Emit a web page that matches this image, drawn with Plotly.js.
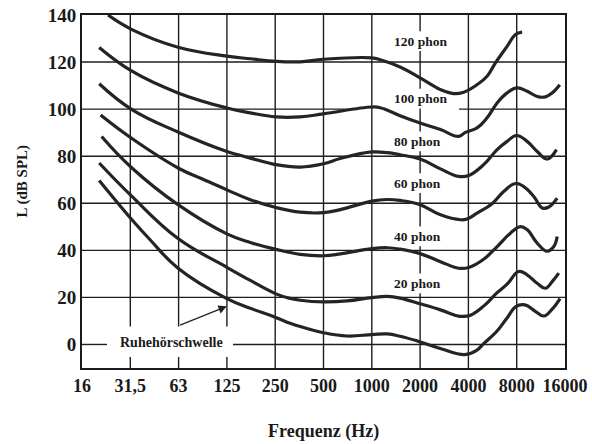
<!DOCTYPE html>
<html>
<head>
<meta charset="utf-8">
<script src="https://cdn.plot.ly/plotly-3.0.1.min.js"></script>
<style>
  html, body { margin: 0; padding: 0; background: #ffffff; }
  #chart { width: 592px; height: 444px; }
</style>
</head>
<body>
<div id="chart"></div>
<script>
// ---- Data ----
const freqTicks = [15.625, 31.25, 62.5, 125, 250, 500, 1000, 2000, 4000, 8000, 16000];
const freqTickLabels = ['16', '31,5', '63', '125', '250', '500', '1000', '2000', '4000', '8000', '16000'];
const levelTicks = [0, 20, 40, 60, 80, 100, 120, 140];

const thresholdFreq = [20, 32, 41.5, 62, 125, 175, 250, 310, 358, 500, 700, 1000, 1250, 1500, 1920, 2700, 3800, 4500, 5000, 6000, 7000, 7900, 9000, 10500, 11800, 13300, 14900];
const thresholdDb   = [69.7, 53, 44.5, 32.4, 19.5, 15.4, 11.6, 9, 7.6, 5, 3.6, 4.2, 4.5, 3.5, 1.5, -1.8, -4.3, -2.5, 0.5, 5.5, 11.5, 16.1, 16.8, 14, 12.1, 15, 19.5];

const phon20Freq = [20, 32, 62, 125, 175, 253, 300, 358, 500, 700, 1000, 1250, 1500, 2000, 2680, 3400, 3650, 4120, 4980, 6040, 6970, 8230, 9290, 10730, 12090, 13310, 14630];
const phon20Db   = [77.1, 62.9, 45, 32.8, 27.2, 21.5, 19.8, 18.8, 18.1, 18.5, 19.9, 20.4, 19.7, 17.3, 14.7, 12.2, 11.9, 12.4, 16.3, 22, 25.6, 31, 29.6, 26, 23.9, 26.7, 30.3];

const phon40Freq = [20.7, 32, 62, 125, 175, 253, 358, 500, 640, 1000, 1250, 1500, 2000, 2680, 3480, 4020, 4980, 6040, 7310, 8440, 9290, 10730, 12390, 13620, 14300];
const phon40Db   = [88.4, 75, 59.4, 47, 43.3, 40.4, 38.3, 37.7, 38.5, 40.7, 41.1, 40.5, 38.6, 35.2, 32.4, 32.7, 36.2, 41.6, 47.3, 50.1, 48.8, 43.1, 39.6, 41.6, 45.9];

const phon60Freq = [20.4, 32, 62, 90, 125, 175, 253, 358, 500, 636, 1000, 1240, 1500, 2000, 2680, 3570, 3920, 4530, 5620, 6640, 7860, 8850, 10220, 11530, 12680, 14300];
const phon60Db   = [97.5, 87.5, 75, 70, 65.7, 61.5, 58.2, 56.2, 56, 57.3, 60.9, 61.6, 61.2, 59.4, 55.1, 53, 53.3, 55.8, 59.8, 65, 68.4, 67.1, 62.9, 58, 58.4, 62.2];

const phon80Freq = [20, 32, 62, 125, 151, 175, 253, 358, 500, 636, 1000, 1250, 1500, 2000, 2680, 3480, 4020, 4980, 6040, 6970, 7970, 9290, 10730, 12390, 14160];
const phon80Db   = [110.8, 99.8, 90.3, 82, 80.4, 79.2, 76.4, 75.4, 76.8, 79, 81.8, 81.5, 80.6, 78.8, 74.6, 71.4, 71.8, 76.4, 82.8, 86.3, 88.8, 86.3, 82, 78.8, 82.8];

const phon100Freq = [20, 32, 62, 125, 175, 253, 358, 500, 1000, 1130, 1500, 2000, 2680, 3480, 3830, 4530, 5230, 6040, 6970, 8050, 9290, 10730, 12090, 13310, 14850];
const phon100Db   = [126.2, 116.1, 106.9, 100.5, 98.4, 96.7, 96.7, 98, 100.9, 100.6, 97.2, 94.1, 91.3, 88.4, 90.1, 92, 96.3, 102.6, 106.9, 109, 107.6, 105.4, 105.2, 106.9, 110.4];

const phon120Freq = [22.7, 32, 62, 125, 175, 253, 358, 500, 1000, 1130, 1500, 2000, 2680, 3240, 3740, 4530, 5230, 5900, 6970, 7860, 8650];
const phon120Db   = [140, 133.8, 126.3, 122.5, 121.4, 120.3, 120.1, 121.2, 121.8, 121, 117.9, 113.3, 108.3, 106.6, 107.2, 110.4, 114, 119.7, 126.7, 131.7, 132.7];

const phonLabels = ['120 phon', '100 phon', '80 phon', '60 phon', '40 phon', '20 phon'];
const phonLabelLevels = [128.9, 104.5, 86.3, 68.6, 45.9, 26];
const phonLabelFreq = 1340;
const thresholdLabel = 'Ruhehörschwelle';

// ---- Traces ----
const curveStyle = { color: '#242424', width: 3.2, shape: 'spline', smoothing: 1.2 };
const series = [
  [thresholdFreq, thresholdDb, 'Ruhehörschwelle'],
  [phon20Freq, phon20Db, '20 phon'],
  [phon40Freq, phon40Db, '40 phon'],
  [phon60Freq, phon60Db, '60 phon'],
  [phon80Freq, phon80Db, '80 phon'],
  [phon100Freq, phon100Db, '100 phon'],
  [phon120Freq, phon120Db, '120 phon']
];
const traces = series.map(s => ({
  x: s[0], y: s[1], name: s[2], type: 'scatter', mode: 'lines',
  line: curveStyle, hoverinfo: 'skip'
}));

const serif = 'Liberation Serif, Times New Roman, serif';
const ink = '#1a1a1a';

// ---- Annotations ----
const annotations = phonLabels.map((t, i) => ({
  x: Math.log10(phonLabelFreq), y: phonLabelLevels[i], xref: 'x', yref: 'y',
  text: t, showarrow: false, xanchor: 'left', yanchor: 'middle',
  font: { family: serif, size: 13.5, color: ink, weight: 'bold' }
}));
annotations.push({
  x: Math.log10(22.4), y: 1, xref: 'x', yref: 'y',
  text: thresholdLabel, showarrow: false, xanchor: 'left', yanchor: 'middle',
  xshift: 11,
  font: { family: serif, size: 14, color: ink, weight: 'bold' }
});
annotations.push({
  x: Math.log10(125), y: 16.2, xref: 'x', yref: 'y',
  ax: Math.log10(62.5), ay: 8, axref: 'x', ayref: 'y',
  text: '', showarrow: true, arrowhead: 2, arrowsize: 1.3, arrowwidth: 1.3, arrowcolor: '#222'
});
annotations.push({
  x: -0.1232, y: 0.53, xref: 'paper', yref: 'paper', textangle: -90,
  text: 'L (dB SPL)', showarrow: false, xanchor: 'center', yanchor: 'middle',
  font: { family: serif, size: 15, color: ink, weight: 'bold' }
});
annotations.push({
  x: 0.5, y: -0.1805, xref: 'paper', yref: 'paper',
  text: 'Frequenz (Hz)', showarrow: false, xanchor: 'center', yanchor: 'middle',
  font: { family: serif, size: 18, color: ink, weight: 'bold' }
});

// ---- Grid drawn as line segments (the printed original has gaps around its labels) ----
const gridLine = { color: '#1e1e1e', width: 1.4 };
const hGaps = { 0: [[0, 0.0518], [0.3126, 1]], 100: [[0, 0.555], [0.7805, 1]] };
const labelGapHalf = 4.2;
function labelSegments() {
  const cuts = phonLabelLevels.slice().sort((a, b) => a - b);
  const segs = [];
  let start = -10;
  cuts.forEach(c => { segs.push([start, c - labelGapHalf]); start = c + labelGapHalf; });
  segs.push([start, 140]);
  return segs;
}
const vGaps = {
  31.25: [[-10, -5.3], [7.6, 140]],
  62.5: [[-10, -5.3], [7.6, 140]],
  125: [[-10, -5.3], [7.6, 140]],
  2000: labelSegments()
};
const shapes = [];
levelTicks.slice(0, -1).forEach(v => {
  (hGaps[v] || [[0, 1]]).forEach(s => shapes.push({
    type: 'line', xref: 'paper', yref: 'y', x0: s[0], x1: s[1], y0: v, y1: v,
    line: gridLine, layer: 'below'
  }));
});
freqTicks.slice(1, -1).forEach(f => {
  (vGaps[f] || [[-10, 140]]).forEach(s => shapes.push({
    type: 'line', xref: 'x', yref: 'y', x0: f, x1: f, y0: s[0], y1: s[1],
    line: gridLine, layer: 'below'
  }));
});

const layout = {
  width: 592, height: 444,
  margin: { l: 82, r: 27, t: 15, b: 76 },
  paper_bgcolor: '#ffffff', plot_bgcolor: 'rgba(0,0,0,0)',
  showlegend: false,
  xaxis: {
    type: 'log',
    range: [Math.log10(15.625), Math.log10(16000)],
    tickmode: 'array', tickvals: freqTicks, ticktext: freqTickLabels,
    showgrid: false,
    showline: true, mirror: true, linecolor: ink, linewidth: 2,
    zeroline: false, ticks: '', ticklabelstandoff: 0,
    tickfont: { family: serif, size: 18, color: ink, weight: 'bold' }
  },
  yaxis: {
    range: [-10, 140],
    tickmode: 'array', tickvals: levelTicks,
    showgrid: false,
    showline: true, mirror: true, linecolor: ink, linewidth: 2,
    zeroline: false, ticks: '', ticklabelstandoff: 0,
    tickfont: { family: serif, size: 19, color: ink, weight: 'bold' }
  },
  annotations: annotations,
  shapes: shapes
};

Plotly.newPlot('chart', traces, layout, { displayModeBar: false, staticPlot: true });
</script>
</body>
</html>
